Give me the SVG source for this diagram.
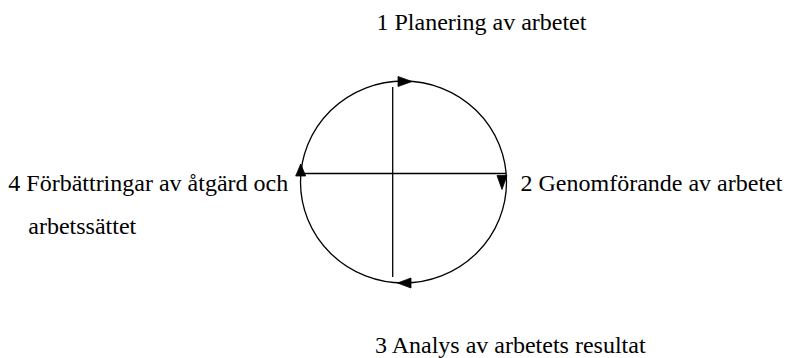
<svg xmlns="http://www.w3.org/2000/svg" width="790" height="358" viewBox="0 0 790 358">
<style>
text{font-family:"Liberation Serif","Times New Roman",Tinos,"DejaVu Serif",serif;font-size:24px;fill:#000}
.l{stroke:#000;stroke-width:1.3;fill:none}
.a{fill:#000;stroke:#000;stroke-width:0.8;stroke-linejoin:miter}
</style>
<rect width="790" height="358" fill="#fff"/>
<g id="cycle">
<ellipse class="l" cx="403.5" cy="182" rx="103" ry="101"/>
</g>
<g id="connectors">
<line class="l" x1="300.8" y1="173.5" x2="506.2" y2="173.5"/>
<line class="l" x1="392.7" y1="87" x2="392.7" y2="277"/>
<polygon class="a" points="412,81.5 398,76.5 398,86.5"/>
<polygon class="a" points="502,189.5 497,175.5 507,175.5"/>
<polygon class="a" points="300.7,164 295.7,176 305.7,176"/>
<polygon class="a" points="397.5,283 411,278 411,288"/>
</g>
<g id="n1"><text x="376.5" y="30">1 Planering av arbetet</text></g>
<g id="n2"><text x="520.5" y="191">2 Genomförande av arbetet</text></g>
<g id="n3"><text x="375" y="353">3 Analys av arbetets resultat</text></g>
<g id="n4"><text x="8.3" y="191">4 Förbättringar av åtgärd och</text><text x="28.3" y="234">arbetssättet</text></g>
</svg>
